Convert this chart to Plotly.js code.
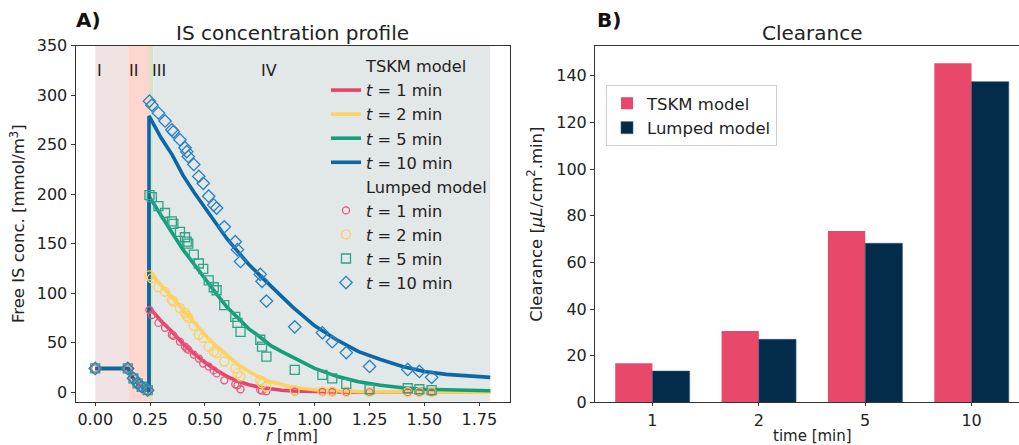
<!DOCTYPE html>
<html>
<head>
<meta charset="utf-8">
<script src="https://cdn.plot.ly/plotly-3.0.1.min.js"></script>
<style>html,body{margin:0;padding:0;background:#fff}#chart{width:1019px;height:445px}</style>
</head>
<body>
<div id="chart"></div>
<script>
// ---------- Panel A data ----------
const regionEdges = [0, 0.15, 0.245, 0.265, 1.8];
const regionLabels = ['I', 'II', 'III', 'IV'];
const regionLabelX = [0, 0.145, 0.25, 0.745];
const regionLabelY = 325;

const rTSKM = [0, 0.15, 0.17, 0.19, 0.21, 0.23, 0.245, 0.245, 0.3, 0.35, 0.4, 0.45, 0.5, 0.55, 0.6, 0.65, 0.7, 0.75, 0.8, 0.85, 0.9, 1.0, 1.1, 1.2, 1.3, 1.4, 1.5, 1.6, 1.7, 1.8];
const tskm1  = [24, 24, 15, 9.5, 6, 3, 1, 86, 72, 61, 49, 39, 30, 22.5, 16, 11, 7.5, 5, 3.2, 2, 1.3, 0.5, 0.2, 0.1, 0, 0, 0, 0, 0, 0];
const tskm2  = [24, 24, 15, 9.5, 6, 3, 1, 122, 108, 96, 83, 71, 58, 47, 37, 28, 21, 15, 10.5, 7.5, 5, 2.5, 1.2, 0.6, 0.3, 0.2, 0.1, 0.1, 0, 0];
const tskm5  = [24, 24, 15, 9.5, 6, 3, 1, 198, 178, 161, 144, 129, 114, 100, 86, 75, 64, 56, 47, 41, 35, 24, 16, 10.5, 7, 4.5, 3, 2.2, 1.8, 1.5];
const tskm10 = [24, 24, 15, 9.5, 6, 3, 1, 279, 257, 240, 219, 202, 186, 170, 155, 142, 129, 118, 107, 96, 86, 67, 53, 41, 33, 26, 21, 18, 16.5, 15];

const rLumped = [0, 0.148, 0.174, 0.193, 0.212, 0.239, 0.247, 0.258, 0.288, 0.318, 0.349, 0.356, 0.386, 0.409, 0.417, 0.424, 0.449, 0.472, 0.492, 0.517, 0.540, 0.553, 0.588, 0.638, 0.648, 0.662, 0.752, 0.760, 0.780, 0.909, 1.035, 1.080, 1.144, 1.250, 1.424, 1.477, 1.533];
const lumped1  = [24, 24, 14, 9, 5.5, 2, 83, 78, 70, 65, 58, 57, 51, 46, 44, 43, 38, 34, 29, 26, 22, 19, 12, 8, 7, 3, 2.3, 1.5, 1, 0.5, 0.2, 0.2, 0.1, 0.1, 0, 0, 0];
const lumped2  = [24, 24, 14, 9, 5.5, 2, 118, 115, 106, 101.5, 93, 91.5, 85, 80, 77, 75, 67, 58, 55, 46, 41, 39.5, 31, 24, 19, 16, 12, 9, 5.5, 1.7, 0.8, 0.6, 0.3, 0.2, 0.1, 0.1, 0.1];
const lumped5  = [24, 24, 14, 9, 5.5, 2, 199, 197, 188, 181, 172.5, 170, 162, 156.5, 152, 150, 139, 130, 124.5, 113, 106, 103, 88, 76, 70, 61, 53, 46, 36, 22.5, 17.5, 14, 8.5, 3, 4, 3, 2];
const lumped10 = [24, 24, 14, 9, 5.5, 2, 294, 290, 282, 274, 265, 263, 255, 247, 243, 238, 230, 218, 211, 198, 189, 186, 167, 152, 144, 132, 119, 112, 92, 66, 60, 51, 40, 26, 23, 21, 15];

const timeLabels = ['1', '2', '5', '10'];

// ---------- Panel B data ----------
const clearanceCats = ['1', '2', '5', '10'];
const clearanceTSKM = [16.7, 30.6, 73.5, 145.4];
const clearanceLumped = [13.4, 27.0, 68.2, 137.5];

// ---------- styling ----------
const FONT = 'DejaVu Sans, Liberation Sans, sans-serif';
const TXT = '#222222';
const lineColors = ['#e8436a', '#fed162', '#12a07a', '#0b67a6'];
const markColors = ['#e9557a', '#fdcf5f', '#2ea388', '#2b80c0'];
const markSymbols = ['circle-open', 'circle-open', 'square-open', 'diamond-open'];
const markSizes = [7, 9, 9, 9.5];
const regionColors = ['#f1e3e3', '#fdd7cf', '#d7e4c6', '#e2e7e7'];

const tskmSeries = [tskm1, tskm2, tskm5, tskm10];
const lumpedSeries = [lumped1, lumped2, lumped5, lumped10];

const traces = [];
traces.push({x: [null], y: [null], type: 'scatter', mode: 'lines', name: 'TSKM model',
  line: {width: 0, color: 'rgba(0,0,0,0)'}, xaxis: 'x', yaxis: 'y', hoverinfo: 'skip', legend: 'legend'});
tskmSeries.forEach((s, i) => traces.push({
  x: rTSKM, y: s, type: 'scatter', mode: 'lines', name: '<i>t</i> = ' + timeLabels[i] + ' min',
  line: {color: lineColors[i], width: 3.6}, xaxis: 'x', yaxis: 'y', legend: 'legend'
}));
traces.push({x: [null], y: [null], type: 'scatter', mode: 'lines', name: 'Lumped model',
  line: {width: 0, color: 'rgba(0,0,0,0)'}, xaxis: 'x', yaxis: 'y', hoverinfo: 'skip', legend: 'legend'});
lumpedSeries.forEach((s, i) => traces.push({
  x: rLumped, y: s, type: 'scatter', mode: 'markers', name: '<i>t</i> = ' + timeLabels[i] + ' min',
  marker: {symbol: markSymbols[i], size: markSizes[i], color: markColors[i], line: {width: 1.3, color: markColors[i]}},
  xaxis: 'x', yaxis: 'y', legend: 'legend'
}));

traces.push({x: clearanceCats, y: clearanceTSKM, type: 'bar', name: 'TSKM model',
  marker: {color: '#e8486a'}, xaxis: 'x2', yaxis: 'y2', legend: 'legend2'});
traces.push({x: clearanceCats, y: clearanceLumped, type: 'bar', name: 'Lumped model',
  marker: {color: '#032c4a', line: {color: '#3a5a74', width: 0.6}}, xaxis: 'x2', yaxis: 'y2', legend: 'legend2'});

const shapes = [];
for (let i = 0; i < regionLabels.length; i++) {
  shapes.push({type: 'rect', xref: 'x', yref: 'y', x0: regionEdges[i], x1: regionEdges[i + 1],
    y0: -9.6, y1: 350, fillcolor: regionColors[i], line: {width: 0}, layer: 'below'});
}

const W = 1019, H = 445;
const px = v => v / W, py = v => 1 - v / H;

const annotations = regionLabels.map((t, i) => ({
  text: t, x: regionLabelX[i], y: regionLabelY, xref: 'x', yref: 'y', xanchor: 'left', yanchor: 'middle',
  showarrow: false, font: {family: FONT, size: 16, color: TXT}
}));
annotations.push(
  {text: 'IS concentration profile', x: px(292), y: py(33), xref: 'paper', yref: 'paper', xanchor: 'center', yanchor: 'middle', showarrow: false, font: {family: FONT, size: 20, color: TXT}},
  {text: 'Clearance', x: px(812), y: py(33), xref: 'paper', yref: 'paper', xanchor: 'center', yanchor: 'middle', showarrow: false, font: {family: FONT, size: 20, color: TXT}},
  {text: '<b>A)</b>', x: px(74), y: py(20), xref: 'paper', yref: 'paper', xanchor: 'left', yanchor: 'middle', showarrow: false, font: {family: FONT, size: 20, color: '#111'}},
  {text: '<b>B)</b>', x: px(595), y: py(20), xref: 'paper', yref: 'paper', xanchor: 'left', yanchor: 'middle', showarrow: false, font: {family: FONT, size: 20, color: '#111'}},
  {text: '<i>r</i> [mm]', x: px(292), y: 0, xref: 'paper', yref: 'paper', xanchor: 'center', yanchor: 'bottom', yshift: -1, borderpad: 0, showarrow: false, font: {family: FONT, size: 15, color: TXT}},
  {text: 'time [min]', x: px(812), y: 0, xref: 'paper', yref: 'paper', xanchor: 'center', yanchor: 'bottom', yshift: -1, borderpad: 0, showarrow: false, font: {family: FONT, size: 15, color: TXT}}
);

const axisCommon = {
  showgrid: false, zeroline: false, showline: true, linecolor: '#333', linewidth: 1,
  ticks: 'outside', ticklen: 4, tickwidth: 1, tickcolor: '#333',
  tickfont: {family: FONT, size: 16, color: TXT}
};

const layout = {
  width: W, height: H,
  margin: {l: 0, r: 0, t: 0, b: 0},
  paper_bgcolor: '#ffffff', plot_bgcolor: 'rgba(0,0,0,0)',
  font: {family: FONT, color: TXT},
  showlegend: true,
  barmode: 'group', bargap: 0.3, bargroupgap: 0,
  xaxis: Object.assign({}, axisCommon, {
    domain: [px(75.5), px(510)], range: [-0.09, 1.89], mirror: true, anchor: 'y', ticklen: 3,
    tickvals: [0, 0.25, 0.5, 0.75, 1.0, 1.25, 1.5, 1.75], tickformat: '.2f'
  }),
  yaxis: Object.assign({}, axisCommon, {
    domain: [py(401.7), py(45.7)], range: [-9.6, 350], mirror: true, anchor: 'x',
    tickvals: [0, 50, 100, 150, 200, 250, 300, 350],
    title: {text: 'Free IS conc. [mmol/m<sup>3</sup>]', font: {family: FONT, size: 16.5, color: TXT}, standoff: 7}
  }),
  xaxis2: Object.assign({}, axisCommon, {
    domain: [px(595), 1], range: [-0.54, 3.446], mirror: true, anchor: 'y2', type: 'category', ticklen: 3
  }),
  yaxis2: Object.assign({}, axisCommon, {
    domain: [py(402.3), py(46)], range: [0, 152.8], mirror: false, anchor: 'x2',
    tickvals: [0, 20, 40, 60, 80, 100, 120, 140],
    title: {text: 'Clearance [<i>μL</i>/cm<sup>2</sup>.min]', font: {family: FONT, size: 16.5, color: TXT}, standoff: 9}
  }),
  legend: {x: px(326), y: py(49), xanchor: 'left', yanchor: 'top', bgcolor: 'rgba(0,0,0,0)',
    borderwidth: 0, font: {family: FONT, size: 16.2, color: TXT}, tracegroupgap: 0},
  legend2: {x: px(606), y: py(85), xanchor: 'left', yanchor: 'top', bgcolor: 'rgba(255,255,255,0.85)',
    bordercolor: '#cfcfcf', borderwidth: 1, font: {family: FONT, size: 16.5, color: TXT}},
  shapes: shapes,
  annotations: annotations
};

Plotly.newPlot('chart', traces, layout, {displayModeBar: false, staticPlot: true});
</script>
</body>
</html>
